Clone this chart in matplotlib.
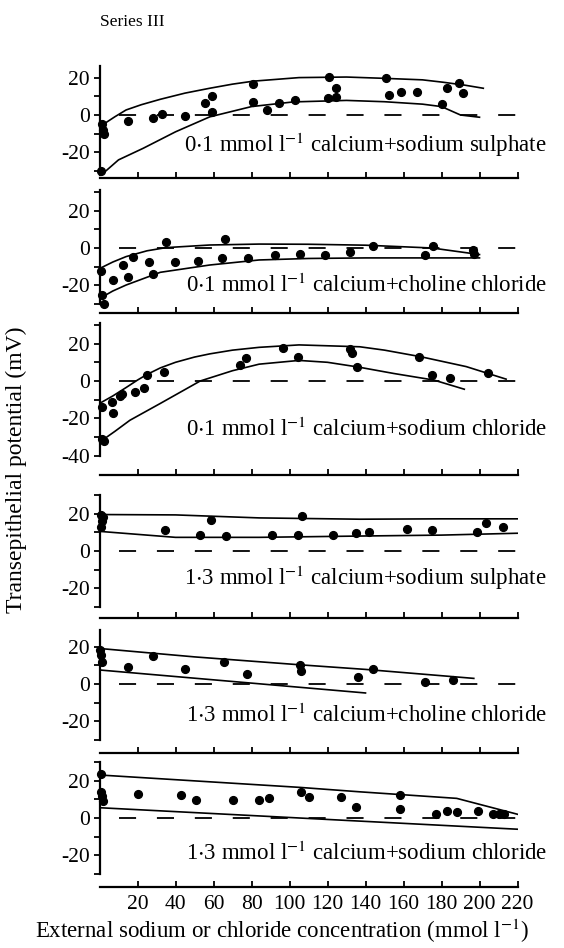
import matplotlib
matplotlib.use("Agg")
import matplotlib.pyplot as plt

plt.rcParams['font.family'] = ['Liberation Serif', 'DejaVu Serif']
plt.rcParams['mathtext.fontset'] = 'stix'
plt.rcParams['lines.scale_dashes'] = False

# ---- data ----
# panel 1: 0.1 mM calcium + sodium sulphate
p1_x = [1.5, 2, 2.5, 1, 15, 28, 33, 45, 55.5, 59.4, 59, 80.6, 80.6, 88.3, 94.5, 102.9,
        121, 120.4, 124.5, 124.5, 150.8, 152.5, 158.7, 167.3, 182.7, 189.4, 191.1, 180.4]
p1_y = [-5, -8, -10, -30, -3.2, -1.8, 0.4, -0.5, 6.6, 10, 1.4, 16.6, 7.1, 2.7, 6.6, 8,
        20.5, 8.9, 14.3, 9.5, 19.6, 10.7, 12.1, 12.1, 14.3, 17, 11.9, 5.9]
p1_up_x = [2, 8, 14, 22, 32, 45, 58, 70, 81, 105, 130, 150, 170, 181, 192, 202]
p1_up_y = [-5, -1, 2.7, 5.5, 8.4, 11.7, 14.3, 16.5, 18.1, 20, 20.3, 19.6, 18.8, 17.5, 16, 14.3]
p1_lo_x = [1, 10, 23, 40, 58, 80, 102, 130, 150, 170, 180, 190, 200]
p1_lo_y = [-32, -24, -17.8, -9, -1, 4.5, 7, 7.8, 7.1, 5.8, 4.5, 0, -1.2]

# panel 2: 0.1 mM calcium + choline chloride
p2_x = [0.6, 1.5, 2.5, 7.3, 12.5, 15.2, 17.5, 26.2, 28.3, 35, 39.7, 52, 64.3, 66, 78.3,
        92.4, 105.5, 118.7, 131.8, 144.1, 171.3, 175.4, 196.7, 197]
p2_y = [-12.3, -25, -30, -17.1, -9.1, -15.3, -4.6, -7.3, -14.1, 3, -7.7, -6.8, -5.2, 4.8,
        -5.2, -3.7, -3.4, -3.7, -2.3, 1.1, -3.7, 1.1, -1.1, -3]
p2_up_x = [0, 7, 14, 25, 35, 58, 84, 110, 140, 175, 200]
p2_up_y = [-11, -7.5, -4.6, -1.5, 0.2, 1.6, 2.1, 2, 1.5, 0, -3.5]
p2_lo_x = [0, 7, 14, 32, 58, 84, 110, 140, 200]
p2_lo_y = [-27, -23, -19.8, -13, -9.1, -6.4, -5.6, -5.3, -5.3]

# panel 3: 0.1 mM calcium + sodium chloride
p3_x = [1.2, 6.4, 7.3, 10.8, 11.7, 18.7, 23.4, 25.2, 34, 74, 77, 96.7, 104.6, 132, 133,
        135.7, 168.3, 174.8, 184.5, 204.6, 1.5, 2.5]
p3_y = [-14.1, -11.4, -16.9, -8, -7, -5.7, -3.9, 3.2, 5, 8.6, 12.1, 17.5, 13, 17, 15,
        7.3, 13, 3.2, 1.4, 4.1, -31, -32]
p3_up_x = [0, 7, 14, 20, 25, 32, 40, 50, 58, 70, 84, 105, 137, 150, 169, 193, 214]
p3_up_y = [-12, -8, -3.5, 0.5, 3.5, 7, 10, 12.8, 14.5, 16.5, 18, 19.3, 18.3, 16.5, 13, 7.7, 1]
p3_lo_x = [1, 8, 16, 32, 53, 70, 84, 105, 120, 136, 155, 176, 192]
p3_lo_y = [-32, -27, -21, -12, 0, 5.5, 9, 11, 10, 7.5, 4, 0.5, -4.4]

# panel 4: 1.3 mM calcium + sodium sulphate
p4_x = [1, 1.5, 2, 1, 34.5, 58.5, 52.9, 66.4, 91, 104.6, 106.4, 123, 135, 142, 162, 174.8,
        198.8, 203.4, 212.2]
p4_y = [13, 16, 18, 19, 11.4, 16.8, 8.6, 8.1, 8.6, 8.6, 18.9, 8.6, 9.6, 9.9, 11.7, 11.4,
        10.4, 15, 12.8]
p4_up_x = [0, 40, 84, 137, 180, 220]
p4_up_y = [19.5, 19.3, 17.7, 17, 17.2, 17.2]
p4_lo_x = [0, 40, 84, 137, 180, 220]
p4_lo_y = [10.5, 7.3, 7.3, 8, 8.5, 9.5]

# panel 5: 1.3 mM calcium + choline chloride
p5_x = [0.3, 0.6, 1.2, 15.2, 28.3, 45, 65.5, 77.8, 105.5, 105.9, 136.2, 143.8, 171.3, 186.2]
p5_y = [18.2, 15.5, 11.9, 9.3, 15, 7.9, 11.9, 5.2, 10.2, 7.1, 3.9, 8, 0.9, 2.1]
p5_up_x = [0, 50, 105, 140, 197]
p5_up_y = [19, 14.5, 10.3, 7.8, 3]
p5_lo_x = [0, 140]
p5_lo_y = [7.5, -4.8]

# panel 6: 1.3 mM calcium + sodium chloride
p6_x = [1, 1, 1.5, 2, 20, 43, 51, 70, 84, 89, 106, 110, 127, 135, 158, 158, 177, 183,
        188, 199, 207, 210, 213]
p6_y = [23.5, 14, 12, 9, 12.8, 12.3, 9.6, 9.6, 9.5, 10.9, 14, 11.4, 11, 6, 12.3, 5, 2, 4,
        3, 4, 2, 2, 2]
p6_up_x = [0, 105, 137, 188, 220]
p6_up_y = [23, 16.4, 14, 10.5, 2]
p6_lo_x = [0, 220]
p6_lo_y = [5.5, -6]

labels = [r"0$\cdot$1 mmol l$^{-1}$ calcium+sodium sulphate",
          r"0$\cdot$1 mmol l$^{-1}$ calcium+choline chloride",
          r"0$\cdot$1 mmol l$^{-1}$ calcium+sodium chloride",
          r"1$\cdot$3 mmol l$^{-1}$ calcium+sodium sulphate",
          r"1$\cdot$3 mmol l$^{-1}$ calcium+choline chloride",
          r"1$\cdot$3 mmol l$^{-1}$ calcium+sodium chloride"]
label_y = [-16, -20, -26, -14.6, -16.6, -19]
x_ticks = [20, 40, 60, 80, 100, 120, 140, 160, 180, 200, 220]

panels = [
    (p1_x, p1_y, p1_up_x, p1_up_y, p1_lo_x, p1_lo_y),
    (p2_x, p2_y, p2_up_x, p2_up_y, p2_lo_x, p2_lo_y),
    (p3_x, p3_y, p3_up_x, p3_up_y, p3_lo_x, p3_lo_y),
    (p4_x, p4_y, p4_up_x, p4_up_y, p4_lo_x, p4_lo_y),
    (p5_x, p5_y, p5_up_x, p5_up_y, p5_lo_x, p5_lo_y),
    (p6_x, p6_y, p6_up_x, p6_up_y, p6_lo_x, p6_lo_y),
]

# layout in pixels: zero line, spine range, x-axis row, y ticks
W, H = 564, 948
scale = 1.87
layout = [
    (115, (-32, 26), 178, [20, 10, 0, -10, -20, -30]),
    (248, (-30, 31), 313, [30, 20, 10, 0, -10, -20, -30]),
    (381, (-40, 31), 475, [30, 20, 10, 0, -10, -20, -30, -40]),
    (551, (-30, 30), 618, [30, 20, 10, 0, -10, -20, -30]),
    (684, (-30, 29), 753, [20, 10, 0, -10, -20, -30]),
    (818, (-30, 30), 887, [30, 20, 10, 0, -10, -20, -30]),
]
x_left, x_right = 99.5, 517.5

fig = plt.figure(figsize=(W / 100, H / 100), dpi=100)

for i, ((px, py, ux, uy, lx, ly), (y0, (s_lo, s_hi), xrow, yt)) in enumerate(zip(panels, layout)):
    top_px = y0 - (s_hi + 1) * scale
    ax = fig.add_axes([x_left / W, 1 - xrow / H, (x_right - x_left) / W, (xrow - top_px) / H])
    ax.set_xlim(0, 220)
    ax.set_ylim((y0 - xrow) / scale, s_hi + 1)
    for side in ['top', 'right']:
        ax.spines[side].set_visible(False)
    ax.spines['left'].set_bounds(s_lo, s_hi)
    ax.spines['left'].set_linewidth(1.6)
    ax.spines['bottom'].set_linewidth(1.6)
    ax.set_yticks(yt)
    ax.set_yticklabels([str(v) if v % 20 == 0 else '' for v in yt])
    ax.tick_params(axis='y', direction='out', length=4, width=1.3, labelsize=15.5, pad=3)
    ax.set_xticks(x_ticks)
    ax.tick_params(axis='x', direction='in', length=4, width=1.3, labelsize=15.5, pad=6)
    if i < 5:
        ax.set_xticklabels([])
    ax.plot([10, 219], [0, 0], color='black', lw=1.3, dashes=(12.3, 15.0))
    ax.plot(ux, uy, color='black', lw=1.2)
    ax.plot(lx, ly, color='black', lw=1.2)
    ax.plot(px, py, 'o', color='black', ms=5.6, clip_on=False)
    ax.text(235.5, label_y[i], labels[i], ha='right', va='center', fontsize=16.5,
            clip_on=False)

fig.text(100 / W, 1 - 22 / H, 'Series III', fontsize=12.5, ha='left', va='center')
fig.text(16 / W, 1 - 470 / H, 'Transepithelial potential (mV)', fontsize=17,
         rotation=90, ha='center', va='center')
fig.text(282 / W, 1 - 938 / H, r"External sodium or chloride concentration (mmol l$^{-1}$)",
         fontsize=16.5, ha='center', va='baseline')

fig.savefig('out.png', dpi=100)
